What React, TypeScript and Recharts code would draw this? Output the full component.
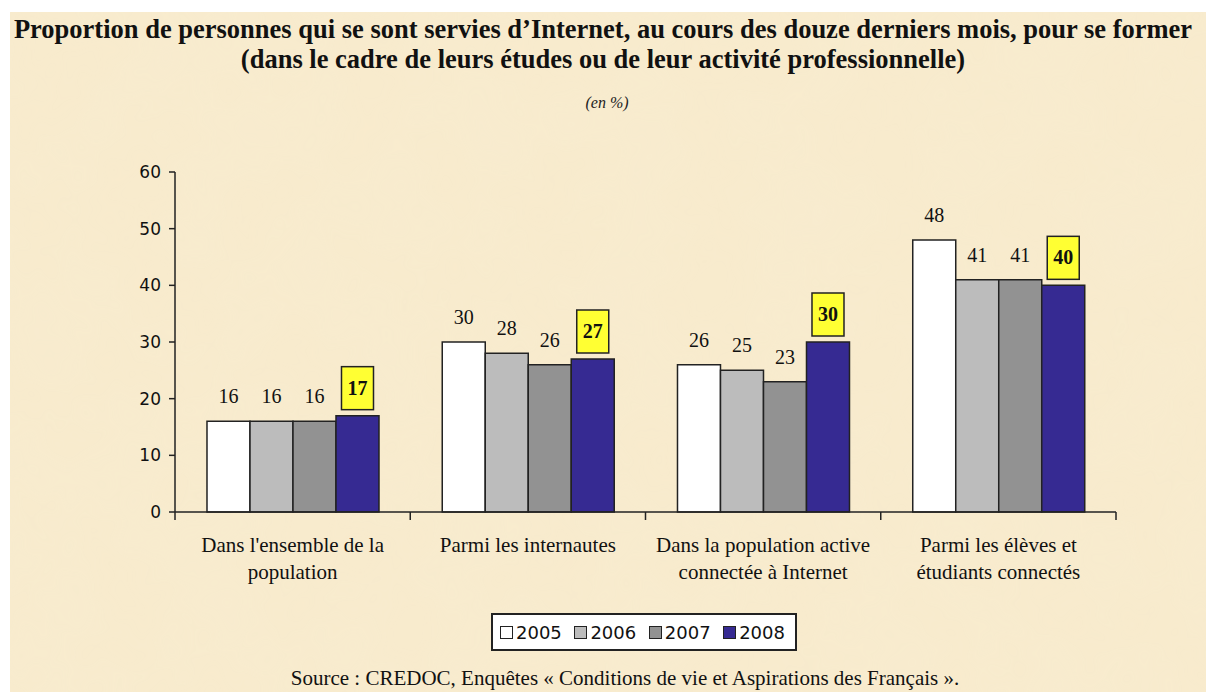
import { Bar, BarChart, LabelList, XAxis, YAxis } from "recharts";

const categories = [
  "Dans l'ensemble de la\npopulation",
  "Parmi les internautes",
  "Dans la population active\nconnectée à Internet",
  "Parmi les élèves et\nétudiants connectés",
];
const years = ["2005", "2006", "2007", "2008"];
const values2005 = [16, 30, 26, 48];
const values2006 = [16, 28, 25, 41];
const values2007 = [16, 26, 23, 41];
const values2008 = [17, 27, 30, 40];
const yTicks = [0, 10, 20, 30, 40, 50, 60];

const COLORS = ["#ffffff", "#bcbcbc", "#929292", "#362a92"];
const SERIF = "'Liberation Serif', 'Times New Roman', serif";
const SANS = "'DejaVu Sans', Tahoma, sans-serif";

const W = 1206;
const H = 692;
const PLOT_LEFT = 175;
const PLOT_RIGHT = 1116;
const PLOT_TOP = 172;
const PLOT_BOTTOM = 512;
const BAND = (PLOT_RIGHT - PLOT_LEFT) / categories.length;

const data = categories.map((name, i) => ({
  name,
  y2005: values2005[i],
  y2006: values2006[i],
  y2007: values2007[i],
  y2008: values2008[i],
}));

const CategoryTick = (props: any) => {
  const { x, y, payload, index } = props;
  const lines = String(payload.value).split("\n");
  const left = x - BAND / 2;
  return (
    <g>
      <line x1={left} y1={y - 8} x2={left} y2={y} stroke="#222" strokeWidth={1.5} />
      {index === categories.length - 1 && (
        <line x1={x + BAND / 2} y1={y - 8} x2={x + BAND / 2} y2={y} stroke="#222" strokeWidth={1.5} />
      )}
      {lines.map((l, i) => (
        <text
          key={i}
          x={x}
          y={y + 25 + i * 27}
          textAnchor="middle"
          dominantBaseline="central"
          style={{ fontFamily: SERIF, fontSize: 21, fill: "#111" }}
        >
          {l}
        </text>
      ))}
    </g>
  );
};

const plainLabel = (props: any) => {
  const { x, y, width, value } = props;
  return (
    <text
      x={x + width / 2}
      y={y - 25}
      textAnchor="middle"
      dominantBaseline="central"
      style={{ fontFamily: SERIF, fontSize: 20, fill: "#111" }}
    >
      {value}
    </text>
  );
};

const boxedLabel = (props: any) => {
  const { x, y, width, value } = props;
  const cx = x + width / 2;
  return (
    <g>
      <rect x={cx - 16} y={y - 49} width={32} height={43} fill="#ffff33" stroke="#222" strokeWidth={1.5} />
      <text
        x={cx}
        y={y - 28}
        textAnchor="middle"
        dominantBaseline="central"
        style={{ fontFamily: SERIF, fontSize: 20, fontWeight: 700, fill: "#111" }}
      >
        {value}
      </text>
    </g>
  );
};

const LegendBox = () => (
  <div
    style={{
      position: "absolute",
      left: 491,
      top: 613,
      width: 306,
      height: 38,
      display: "flex",
      alignItems: "center",
      justifyContent: "space-between",
      padding: "0 10px 0 7px",
      background: "#fff",
      border: "2px solid #222",
      boxSizing: "border-box",
    }}
  >
    {years.map((yr, i) => (
      <div key={yr} style={{ display: "flex", alignItems: "center", gap: 3 }}>
        <span
          style={{
            width: 11,
            height: 11,
            background: COLORS[i],
            border: "1.5px solid #222",
            display: "inline-block",
          }}
        />
        <span style={{ fontFamily: SANS, fontSize: 18, color: "#111" }}>{yr}</span>
      </div>
    ))}
  </div>
);

export default function App() {
  return (
    <div style={{ position: "absolute", left: 0, top: 0, width: W, height: H, background: "#fff", overflow: "hidden" }}>
      <div style={{ position: "absolute", left: 10, top: 12, right: 0, bottom: 0, background: "#f8ebcd" }}>
        <svg width={W} height={H} style={{ position: "absolute", left: 0, top: 0 }}>
          <filter id="paper">
            <feTurbulence type="fractalNoise" baseFrequency="0.012" numOctaves={3} seed={4} />
            <feColorMatrix
              type="matrix"
              values="0 0 0 0 0.93  0 0 0 0 0.85  0 0 0 0 0.68  0 0 0 0.6 -0.15"
            />
          </filter>
          <rect width={W} height={H} filter="url(#paper)" opacity={0.45} />
        </svg>
      </div>

      <div
        style={{
          position: "absolute",
          left: 0,
          top: 14,
          width: W,
          textAlign: "center",
          fontFamily: SERIF,
          fontWeight: 700,
          fontSize: 26.5,
          lineHeight: "30px",
          color: "#111",
          whiteSpace: "nowrap",
        }}
      >
        Proportion de personnes qui se sont servies d’Internet, au cours des douze derniers mois, pour se former
        <br />
        (dans le cadre de leurs études ou de leur activité professionnelle)
      </div>
      <div
        style={{
          position: "absolute",
          left: 0,
          top: 94,
          width: W + 8,
          textAlign: "center",
          fontFamily: SERIF,
          fontStyle: "italic",
          fontSize: 16,
          color: "#222",
        }}
      >
        (en %)
      </div>

      <div style={{ position: "absolute", left: 0, top: 0 }}>
        <BarChart
          width={W}
          height={H}
          data={data}
          margin={{ top: PLOT_TOP, right: W - PLOT_RIGHT, bottom: 120, left: PLOT_LEFT - 50 }}
          barCategoryGap="13.6%"
          barGap={0}
        >
          <XAxis
            dataKey="name"
            height={H - PLOT_BOTTOM - 120}
            axisLine={{ stroke: "#222", strokeWidth: 1.5 }}
            tickLine={false}
            tick={<CategoryTick />}
            interval={0}
          />
          <YAxis
            width={50}
            domain={[0, 60]}
            ticks={yTicks}
            axisLine={{ stroke: "#222", strokeWidth: 1.5 }}
            tickLine={{ stroke: "#222", strokeWidth: 1.5 }}
            tickSize={6}
            tickMargin={8}
            tick={{ fontFamily: SANS, fontSize: 17, fill: "#111" }}
          />
          <Bar dataKey="y2005" name="2005" fill={COLORS[0]} stroke="#222" strokeWidth={1.5} isAnimationActive={false}>
            <LabelList dataKey="y2005" content={plainLabel} />
          </Bar>
          <Bar dataKey="y2006" name="2006" fill={COLORS[1]} stroke="#222" strokeWidth={1.5} isAnimationActive={false}>
            <LabelList dataKey="y2006" content={plainLabel} />
          </Bar>
          <Bar dataKey="y2007" name="2007" fill={COLORS[2]} stroke="#222" strokeWidth={1.5} isAnimationActive={false}>
            <LabelList dataKey="y2007" content={plainLabel} />
          </Bar>
          <Bar dataKey="y2008" name="2008" fill={COLORS[3]} stroke="#222" strokeWidth={1.5} isAnimationActive={false}>
            <LabelList dataKey="y2008" content={boxedLabel} />
          </Bar>
        </BarChart>
      </div>

      <LegendBox />

      <div
        style={{
          position: "absolute",
          left: 0,
          top: 666,
          width: W + 44,
          textAlign: "center",
          fontFamily: SERIF,
          fontSize: 21,
          lineHeight: "24px",
          color: "#111",
          whiteSpace: "nowrap",
        }}
      >
        Source : CREDOC, Enquêtes « Conditions de vie et Aspirations des Français ».
      </div>
    </div>
  );
}
